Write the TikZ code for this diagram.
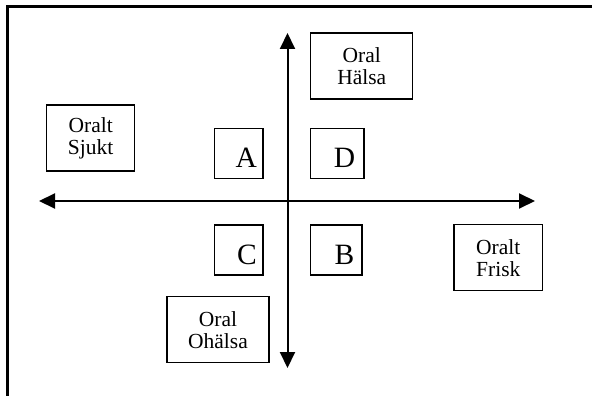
\documentclass[tikz,border=0pt]{standalone}
\usepackage{fontspec}
\setmainfont{Liberation Serif}
\usepackage{tikz}
\usetikzlibrary{arrows.meta, positioning}

\begin{document}
\begin{tikzpicture}[
    x=1pt, y=-1pt,
    frameline/.style={line width=2.4pt, line cap=rect},
    axis/.style={{Triangle[length=16pt, width=15pt]}-{Triangle[length=16pt, width=15pt]}, line width=2pt},
    state/.style={rectangle, draw, line width=1.3pt, inner sep=0pt,
                  minimum height=66pt, align=center,
                  font=\fontsize{21.5}{22}\selectfont},
    quadrant/.style={rectangle, draw, line width=1.3pt, inner sep=0pt,
                  minimum height=50pt, text height=28pt, text depth=0pt,
                  text width=36pt, align=right,
                  font=\fontsize{29.5}{32}\selectfont}
]
    \useasboundingbox (0,0) rectangle (592,396);

    % Frame
    \draw[frameline] (7.5,400) -- (7.5,6.5) -- (600,6.5);

    % Axis ends
    \coordinate (west) at (39,201);
    \coordinate (east) at (535,201);
    \coordinate (north) at (287.5,33);
    \coordinate (south) at (287.5,368);

    % Axes
    \draw[axis] (west) -- (east);
    \draw[axis] (north) -- (south);

    % States
    \node[state, minimum width=102pt] (halsa) at (361.8,66) {Oral\\Hälsa};
    \node[state, minimum width=88pt] (sjukt) at (90.7,138) {Oralt\\Sjukt};
    \node[state, minimum width=88.6pt] (frisk) at (498.3,257.8) {Oralt\\Frisk};
    \node[state, minimum width=102pt] (ohalsa) at (218,329.7) {Oral\\Ohälsa};

    % Quadrants
    \node[quadrant, minimum width=48.3pt] (qa) at (238.9,153.7) {A};
    \node[quadrant, minimum width=53.4pt] (qd) at (337.3,153.7) {D};
    \node[quadrant, minimum width=48.3pt] (qc) at (238.9,250) {C};
    \node[quadrant, minimum width=51.4pt] (qb) at (336.3,250) {B};
\end{tikzpicture}
\end{document}
